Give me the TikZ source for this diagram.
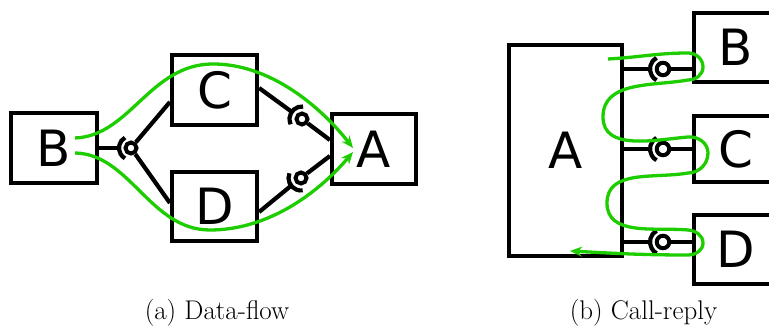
\documentclass[tikz,border=0pt]{standalone}
\usepackage{fontspec}
\newfontfamily\lblfont{DejaVu Sans}
\usetikzlibrary{arrows.meta}
\definecolor{flowgreen}{RGB}{30,205,0}
\begin{document}
\begin{tikzpicture}[x=1pt,y=1pt,
  comp/.style={draw, line width=4.2pt, inner sep=0pt, font=\lblfont\fontsize{50}{50}\selectfont},
  wire/.style={line width=4.2pt},
  ballst/.style={circle, draw, line width=4pt, fill=white, minimum size=11pt, inner sep=0pt},
  bigball/.style={ballst, minimum size=12.5pt},
  flow/.style={draw=flowgreen, line width=3.3pt, -{Stealth[length=12pt,width=10pt]}},
  capt/.style={font=\fontsize{27}{31}\selectfont, anchor=base}
]
\useasboundingbox (0,0) rectangle (769,326);

% ---------- (a) Data-flow ----------
\node[comp, minimum width=86pt, minimum height=70pt] (B) at (54,178) {B};
\node[comp, minimum width=85pt, minimum height=70pt] (C) at (214.5,236) {C};
\node[comp, minimum width=85pt, minimum height=69.5pt] (D) at (214.5,119.5) {D};
\node[comp, minimum width=84pt, minimum height=70pt] (A) at (374,177) {A};

% left socket/ball
\coordinate (s1) at (131,178);
\draw[wire] (B.east) -- ([shift={(180:12)}]s1);
\draw[wire] ([shift={(120:12)}]s1) arc[start angle=120, end angle=240, radius=12];
\node[ballst] (b1) at (s1) {};
\draw[wire] (b1) -- ([yshift=-12pt]C.west);
\draw[wire] (b1) -- ([yshift=3.5pt]D.west);

% upper right socket/ball
\coordinate (s2) at (302,207);
\draw[wire] ([yshift=2pt]C.east) -- ([shift={(145:12.5)}]s2);
\draw[wire] ([shift={(85:12.5)}]s2) arc[start angle=85, end angle=205, radius=12.5];
\node[ballst] (b2) at (s2) {};
\draw[wire] (b2) -- ([yshift=9pt]A.west);

% lower right socket/ball
\coordinate (s3) at (301,148);
\draw[wire] ([yshift=-5.5pt]D.east) -- ([shift={(218:12.5)}]s3);
\draw[wire] ([shift={(158:12.5)}]s3) arc[start angle=158, end angle=278, radius=12.5];
\node[ballst] (b3) at (s3) {};
\draw[wire] (b3) -- ([yshift=-7pt]A.west);

% green flows
\coordinate (fa1) at (75,188);
\coordinate (fa2) at (75,173);
\coordinate (ta1) at (353,178);
\coordinate (ta2) at (353,174);
\draw[flow] (fa1) .. controls (130,190) and (150,262) .. (213,262)
                  .. controls (270,262) and (320,220) .. (ta1);
\draw[flow] (fa2) .. controls (130,172) and (150,96) .. (210,96)
                  .. controls (270,96) and (320,135) .. (ta2);

\node[capt] (capa) at (217,6) {(a) Data-flow};

% ---------- (b) Call-reply ----------
\node[comp, minimum width=113pt, minimum height=211pt] (A2) at (565.5,175.5) {A};
\node[comp, minimum width=84pt, minimum height=69pt] (B2) at (736,278.5) {B};
\node[comp, minimum width=84pt, minimum height=66pt] (C2) at (736,177) {C};
\node[comp, minimum width=84pt, minimum height=69pt] (D2) at (736,76.5) {D};

\foreach \s/\y/\tgt in {sB/257/B2, sC/177/C2, sD/84/D2}{
  \coordinate (\s) at (663,\y);
  \draw[wire] (A2.east |- \s) -- ([shift={(180:13)}]\s);
  \draw[wire] ([shift={(120:13)}]\s) arc[start angle=120, end angle=240, radius=13];
  \node[bigball] (b\s) at (\s) {};
  \draw[wire] (b\s) -- (\tgt.west |- \s);
}

\coordinate (fb0) at (608,267);
\coordinate (tb0) at (570,75);
\draw[flow] (fb0) to[out=3,in=180] (688,273) to[out=0,in=90] (703,259)
  to[out=-90,in=0] (688,246) to[out=190,in=90] (603,209)
  to[out=-90,in=185] (688,189) to[out=5,in=90] (708,173)
  to[out=-90,in=0] (688,153) to[out=190,in=90] (607,123)
  to[out=-90,in=175] (688,96) to[out=-5,in=90] (703,83)
  to[out=-90,in=0] (688,71) to[out=180,in=-3] (tb0);

\node[capt] (capb) at (643.5,6) {(b) Call-reply};
\end{tikzpicture}
\end{document}
